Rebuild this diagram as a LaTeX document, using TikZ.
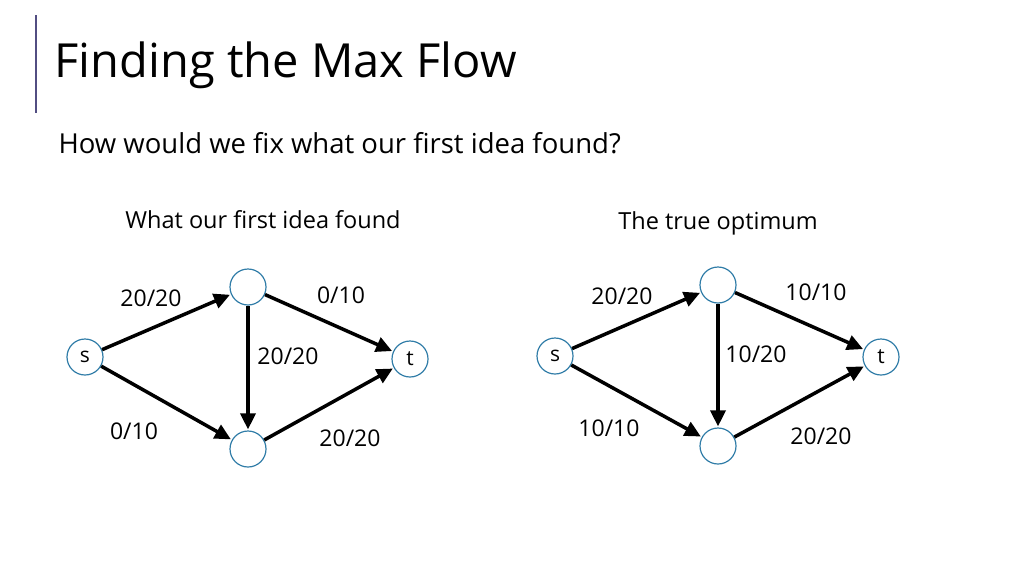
\documentclass[tikz,border=0pt]{standalone}
\usepackage{fontspec}
\setmainfont{Open Sans}
\usetikzlibrary{arrows.meta}

\definecolor{ringblue}{RGB}{49,125,168}
\definecolor{barpurple}{RGB}{82,78,130}

\tikzset{
    vertex/.style = {circle, draw=ringblue, line width=1.2pt, fill=white,
                     minimum size=36pt, inner sep=0pt, font=\fontsize{21}{25}\selectfont},
    flow/.style   = {line width=3.5pt, -{Triangle[length=16pt, width=15pt]}, shorten >=1pt},
    amount/.style = {font=\fontsize{23}{27}\selectfont}
}

\begin{document}
\begin{tikzpicture}[x=1pt, y=-1pt]

        \useasboundingbox (0, 0) rectangle (1024, 576);

        \draw[barpurple, line width=2pt] (36, 15) -- (36, 113);
        \node[anchor=west, font=\fontsize{47}{56}\selectfont] (title) at (51, 65) {Finding the Max Flow};
        \node[anchor=west, font=\fontsize{27.5}{33}\selectfont] (question) at (55, 143) {How would we fix what our first idea found?};

        % first idea
        \node[font=\fontsize{23.5}{28}\selectfont] (lefthead) at (263, 220) {What our first idea found};

        \node[vertex] (s1) at (85, 357)  {s};
        \node[vertex] (u1) at (248, 287) {};
        \node[vertex] (v1) at (248, 449) {};
        \node[vertex] (t1) at (410, 359) {t};

        \draw[flow] (s1) -- (u1);
        \draw[flow] (s1) -- (v1);
        \draw[flow] (u1) -- (v1);
        \draw[flow] (u1) -- (t1);
        \draw[flow] (v1) -- (t1);

        \draw
            (151, 298) node[amount] {20/20}
            (341, 295) node[amount] {0/10}
            (288, 356) node[amount] {20/20}
            (134, 431) node[amount] {0/10}
            (350, 438) node[amount] {20/20}
        ;

        % true optimum
        \node[font=\fontsize{23.5}{28}\selectfont] (righthead) at (718, 223) {The true optimum};

        \node[vertex] (s2) at (555, 356) {s};
        \node[vertex] (u2) at (718, 285) {};
        \node[vertex] (v2) at (718, 446) {};
        \node[vertex] (t2) at (881, 357) {t};

        \draw[flow] (s2) -- (u2);
        \draw[flow] (s2) -- (v2);
        \draw[flow] (u2) -- (v2);
        \draw[flow] (u2) -- (t2);
        \draw[flow] (v2) -- (t2);

        \draw
            (622, 296) node[amount] {20/20}
            (816, 292) node[amount] {10/10}
            (756, 354) node[amount] {10/20}
            (609, 428) node[amount] {10/10}
            (821, 436) node[amount] {20/20}
        ;

    \end{tikzpicture}
\end{document}
